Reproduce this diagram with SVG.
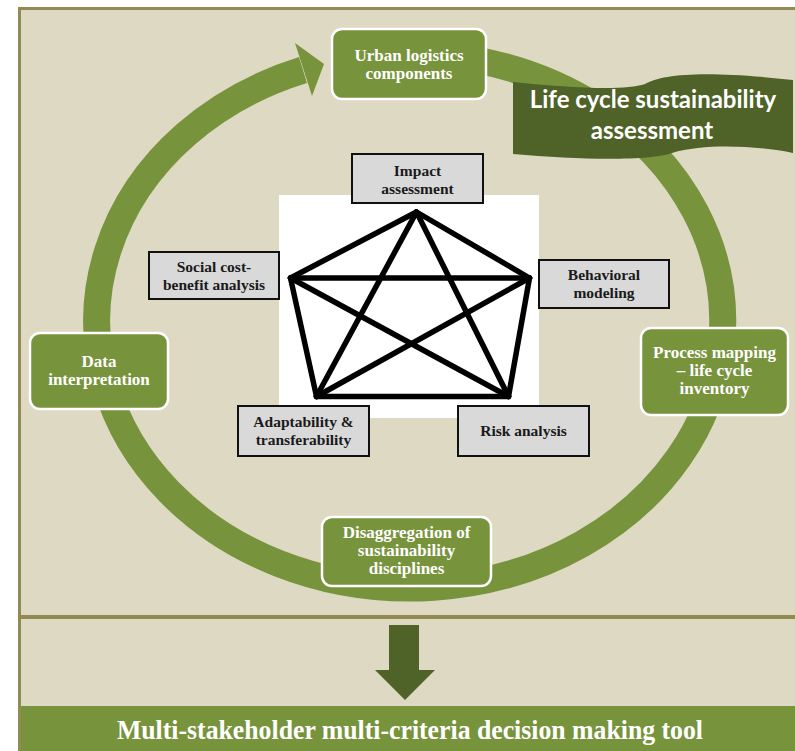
<svg xmlns="http://www.w3.org/2000/svg" width="795" height="751" viewBox="0 0 795 751">
<defs>
<style>
.panel{fill:#ddd9c3;stroke:#938953;stroke-width:3}
.gbox{fill:#77933c;stroke:#ffffff;stroke-width:2.5}
.gtxt{font-family:"Liberation Serif","Times New Roman",serif;font-weight:bold;font-size:17px;fill:#ffffff;text-anchor:middle}
.kbox{fill:#d9d9d9;stroke:#111111;stroke-width:2}
.ktxt{font-family:"Liberation Serif","Times New Roman",serif;font-weight:bold;font-size:15.5px;fill:#1a1a1a;text-anchor:middle}
.edge{stroke:#000000;stroke-width:5.5;stroke-linecap:round;fill:none}
.btxt{font-family:Lato,"Open Sans",sans-serif;font-weight:bold;font-size:24px;fill:#ffffff;text-anchor:middle}
</style>
</defs>
<rect x="0" y="0" width="795" height="751" fill="#ffffff"/>
<rect class="panel" x="19.5" y="8.5" width="800" height="608"/>
<rect class="panel" x="19.5" y="617.5" width="800" height="150"/>
<rect x="21" y="706" width="800" height="50" fill="#77933c"/>

<g id="connectors">
  <path d="M470,59 A313,267 0 1 1 303,70" fill="none" stroke="#77933c" stroke-width="27"/>
  <polygon points="295,43 324,64 312,96" fill="#77933c"/>
  <rect x="279" y="195" width="260" height="223" fill="#ffffff"/>
  <g id="pentagon">
    <line class="edge" x1="416.5" y1="212" x2="290.5" y2="278"/>
    <line class="edge" x1="416.5" y1="212" x2="529.5" y2="278"/>
    <line class="edge" x1="290.5" y1="278" x2="529.5" y2="278"/>
    <line class="edge" x1="290.5" y1="278" x2="316.5" y2="396.5"/>
    <line class="edge" x1="529.5" y1="278" x2="508.5" y2="396.5"/>
    <line class="edge" x1="316.5" y1="396.5" x2="508.5" y2="396.5"/>
    <line class="edge" x1="416.5" y1="212" x2="316.5" y2="396.5"/>
    <line class="edge" x1="416.5" y1="212" x2="508.5" y2="396.5"/>
    <line class="edge" x1="290.5" y1="278" x2="508.5" y2="396.5"/>
    <line class="edge" x1="529.5" y1="278" x2="316.5" y2="396.5"/>
  </g>
  <polygon points="389,625 419,625 419,670 435,670 405,700 375,670 389,670" fill="#4f6228"/>
</g>

<g id="banner">
  <path d="M513,82 C570,88 625,91 645,84 C662,74 705,70 793,80 L793,153 C760,146 705,143 672,153 C650,161 580,160 513,154 Z" fill="#4f6228"/>
  <text class="btxt" x="653" y="108">Life cycle sustainability</text>
  <text class="btxt" x="652" y="139">assessment</text>
</g>

<g id="urban">
  <rect class="gbox" x="332" y="29" width="154" height="70" rx="10"/>
  <text class="gtxt" x="409" y="61">Urban logistics</text>
  <text class="gtxt" x="409" y="79">components</text>
</g>
<g id="data">
  <rect class="gbox" x="30" y="333" width="138" height="76" rx="10"/>
  <text class="gtxt" x="99" y="367">Data</text>
  <text class="gtxt" x="99" y="385">interpretation</text>
</g>
<g id="process">
  <rect class="gbox" x="641" y="328" width="147" height="87" rx="10"/>
  <text class="gtxt" x="714.5" y="358">Process mapping</text>
  <text class="gtxt" x="714.5" y="376">– life cycle</text>
  <text class="gtxt" x="714.5" y="394">inventory</text>
</g>
<g id="disaggregation">
  <rect class="gbox" x="322" y="517" width="169" height="69" rx="10"/>
  <text class="gtxt" x="406.5" y="538">Disaggregation of</text>
  <text class="gtxt" x="406.5" y="556">sustainability</text>
  <text class="gtxt" x="406.5" y="574">disciplines</text>
</g>

<g id="impact">
  <rect class="kbox" x="352" y="154" width="131" height="49"/>
  <text class="ktxt" x="417.5" y="176">Impact</text>
  <text class="ktxt" x="417.5" y="194">assessment</text>
</g>
<g id="social">
  <rect class="kbox" x="149" y="252" width="130" height="47"/>
  <text class="ktxt" x="214" y="272">Social cost-</text>
  <text class="ktxt" x="214" y="290">benefit analysis</text>
</g>
<g id="behavioral">
  <rect class="kbox" x="539" y="260" width="130" height="48"/>
  <text class="ktxt" x="604" y="280">Behavioral</text>
  <text class="ktxt" x="604" y="298">modeling</text>
</g>
<g id="adaptability">
  <rect class="kbox" x="238" y="406" width="131" height="50"/>
  <text class="ktxt" x="303.5" y="427">Adaptability &amp;</text>
  <text class="ktxt" x="303.5" y="445">transferability</text>
</g>
<g id="risk">
  <rect class="kbox" x="458" y="406" width="131" height="50"/>
  <text class="ktxt" x="523.5" y="436">Risk analysis</text>
</g>

<g id="tool">
  <text x="410" y="739" font-family="'Liberation Serif','Times New Roman',serif" font-weight="bold" font-size="27" fill="#ffffff" text-anchor="middle" textLength="586" lengthAdjust="spacingAndGlyphs">Multi-stakeholder multi-criteria decision making tool</text>
</g>
</svg>
